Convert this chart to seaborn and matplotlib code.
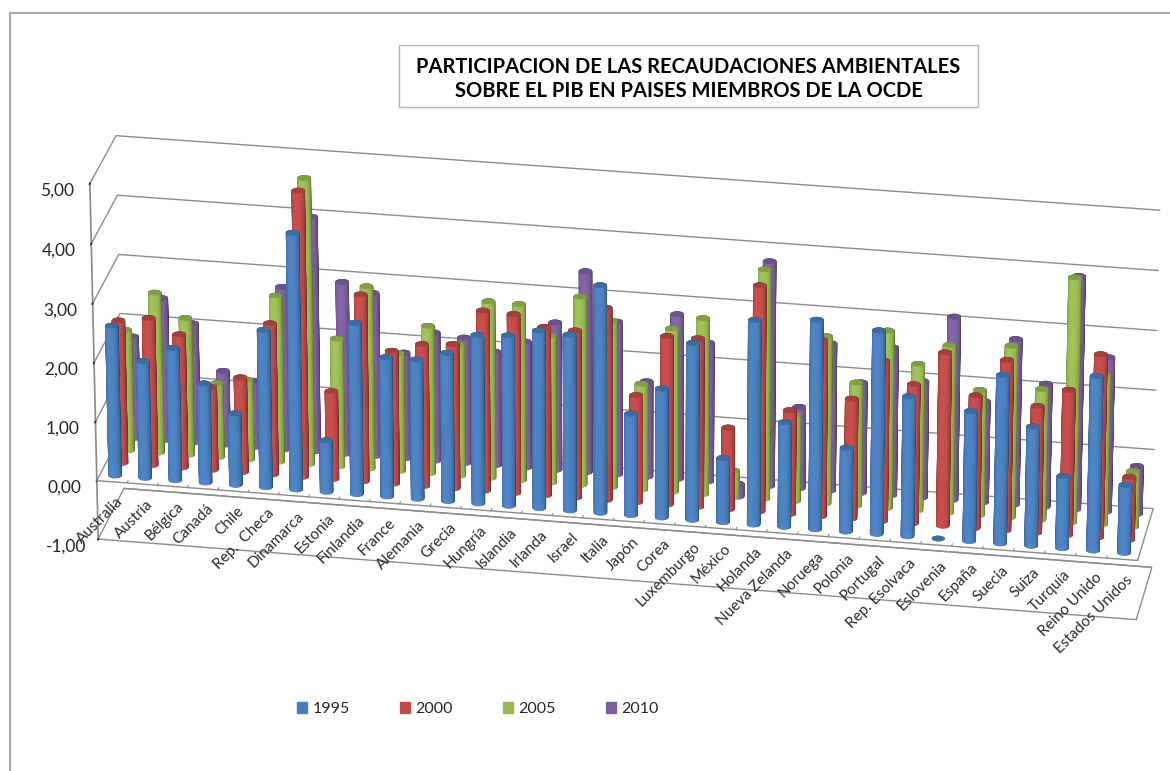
import numpy as np
import matplotlib
matplotlib.use("Agg")
import matplotlib.pyplot as plt
import seaborn as sns
from matplotlib.patches import Patch, Rectangle
from mpl_toolkits.mplot3d import proj3d

# 1 Data
paises = ["Australia", "Austria", "Bélgica", "Canadá", "Chile", "Rep.  Checa", "Dinamarca",
          "Estonia", "Finlandia", "France", "Alemania", "Grecia", "Hungría", "Islandia",
          "Irlanda", "Israel", "Italia", "Japón", "Corea", "Luxemburgo", "México", "Holanda",
          "Nueva Zelanda", "Noruega", "Polonia", "Portugal", "Rep. Esolvaca", "Eslovenia",
          "España", "Suecia", "Suiza", "Turquía", "Reino Unido", "Estados Unidos"]
anios = ["1995", "2000", "2005", "2010"]

v1995 = [2.54, 1.98, 2.24, 1.68, 1.21, 2.66, 4.32, 0.87, 2.89, 2.35, 2.35, 2.50, 2.84, 2.87, 2.99, 2.96, 3.82,
         1.71, 2.17, 2.97, 1.08, 3.43, 1.76, 3.51, 1.41, 3.41, 2.35, 0.00, 2.18, 2.82, 2.00, 1.21, 2.92, 1.14]
v2000 = [2.42, 2.50, 2.26, 1.41, 1.61, 2.56, 4.82, 1.49, 3.16, 2.25, 2.40, 2.44, 3.04, 3.02, 2.84, 2.82, 3.24,
         1.81, 2.84, 2.84, 1.38, 3.80, 1.75, 2.96, 2.02, 2.70, 2.34, 2.91, 2.23, 2.86, 2.13, 2.44, 3.07, 1.06]
v2005 = [2.05, 2.72, 2.33, 1.26, 1.36, 2.82, 4.83, 2.17, 3.09, 2.00, 2.50, 2.22, 2.99, 2.98, 2.49, 3.18, 2.81,
         1.79, 2.76, 2.97, 0.44, 3.86, 1.46, 2.82, 2.08, 2.99, 2.47, 2.82, 2.11, 2.89, 2.20, 4.10, 2.52, 0.94]
v2010 = [1.73, 2.42, 2.03, 1.26, 1.13, 2.76, 3.98, 2.92, 2.77, 1.80, 2.18, 2.13, 1.93, 2.14, 2.50, 3.40, 2.59,
         1.62, 2.79, 2.35, -0.22, 3.79, 1.38, 2.49, 1.87, 2.50, 1.97, 3.09, 1.71, 2.79, 2.08, 3.92, 2.60, 0.81]
series = [v1995, v2000, v2005, v2010]

zticks = [-1, 0, 1, 2, 3, 4, 5]
zlabels = ["-1,00", "0,00", "1,00", "2,00", "3,00", "4,00", "5,00"]
colores = ["#4A7EBB", "#BE4B48", "#98B954", "#7D60A0"]

# 2 Theme
sns.set_theme(style="white")
plt.rcParams["font.family"] = ["Lato", "DejaVu Sans"]
paleta = sns.color_palette(colores)
GRIS = "#8c8c8c"

fig = plt.figure(figsize=(11.7, 7.71), dpi=100)
# axes square bigger than the figure, 3D collections get clipped to it otherwise
lado = 1300
ax = fig.add_axes([(606 - lado / 2) / 1170, (771 - 394 - lado / 2) / 771, lado / 1170, lado / 771],
                  projection="3d", computed_zorder=False)
ax.set_proj_type("persp", focal_length=1.5)
ax.view_init(elev=25, azim=-80)
ax.set_xlim(0, 34)
ax.set_ylim(0, 4)
ax.set_zlim(-1, 5)
ax.set_box_aspect((34 * 31, 120, 392), zoom=0.847)
ax.patch.set_alpha(0)


# 3 Cylinders, back series first so the front ones cover them
def cilindro(x, y, valor, color, orden, r=0.205):
    t = np.linspace(0, 2 * np.pi, 37)
    t2, z2 = np.meshgrid(t, [0, valor])
    xs = x + r * np.cos(t2)
    ys = y + r * np.sin(t2)
    # soft dark rim, bright band near the centre
    mid = (t[:-1] + t[1:]) / 2
    luz = 0.62 + 0.45 * np.clip(np.cos(mid - np.radians(-95)), 0, 1) ** 0.7
    base = np.array(color)
    cara = np.ones((1, len(mid), 4))
    cara[0, :, :3] = np.clip(base[None, :] * luz[:, None], 0, 1)
    if valor != 0:
        ax.plot_surface(xs, ys, z2, facecolors=cara, shade=False, rstride=1, cstride=1,
                        linewidth=0.5, zorder=orden)
    # cap
    tapa = base * 0.86
    rr, tt = np.meshgrid(np.array([0, r]), t)
    zc = np.full_like(rr, max(valor, 0))
    ax.plot_surface(x + rr * np.cos(tt), y + rr * np.sin(tt), zc, color=tapa, shade=False,
                    rstride=1, cstride=1, linewidth=0.3, edgecolor=tapa, zorder=orden + 1)


for j in range(3, -1, -1):
    for i, valor in enumerate(series[j]):
        cilindro(i + 0.5, j + 0.5, valor, paleta[j], 10 * (4 - j))

# 4 Walls, floor and axes
ax.set_xticks([])
ax.set_yticks([])
ax.set_zticks(zticks, labels=zlabels, fontsize=12.5, color="#262626")
ax.zaxis.set_ticks_position("lower")
ax.tick_params(axis="z", pad=7)
for eje in (ax.xaxis, ax.yaxis, ax.zaxis):
    eje.set_pane_color((1, 1, 1, 1))
    eje.pane.set_edgecolor((1, 1, 1, 0))
    eje.line.set_color((1, 1, 1, 0))
ax.zaxis.line.set_color(GRIS)
ax.zaxis.pane.set_edgecolor(GRIS)
ax.zaxis._axinfo["grid"].update(color=GRIS, linewidth=1.0)
ax.zaxis._axinfo["tick"].update(color=GRIS)
ax.grid(True)

# plate at zero with the category ticks
ax.plot([0, 34, 34], [0, 0, 4], [0, 0, 0], color=GRIS, lw=1.0, zorder=1)
for i in range(35):
    ax.plot([i, i], [0, 0.18], [0, 0], color=GRIS, lw=0.8, zorder=1)

# category labels: 3D text keeps its own angle, so place them from the projected point
for i, pais in enumerate(paises):
    xp, yp, _ = proj3d.proj_transform(i + 0.62, 0, -0.22, ax.get_proj())
    ax.annotate(pais, (xp, yp), rotation=45, ha="right", va="top", rotation_mode="anchor",
                fontsize=11, color="#2b2b2b", zorder=60, annotation_clip=False)

# 5 Title, legend, outer border
fig.add_artist(Rectangle((10 / 1170, -0.1), 1.2, 1.1 - 13 / 771, fill=False, ec="#a6a6a6", lw=1.5,
                         transform=fig.transFigure))
fig.add_artist(Rectangle((399 / 1170, 1 - 107 / 771), 579 / 1170, 62 / 771, fc="white", ec="#b5b5b5", lw=1,
                         transform=fig.transFigure))
fig.text(688.5 / 1170, 1 - 79 / 771, "PARTICIPACION DE LAS RECAUDACIONES AMBIENTALES\nSOBRE EL PIB EN PAISES MIEMBROS DE LA OCDE",
         ha="center", va="center", fontsize=14.5, fontweight="bold", color="black", linespacing=1.27)

manejadores = [Patch(color=c, label=a) for c, a in zip(paleta, anios)]
fig.legend(handles=manejadores, loc="center left", bbox_to_anchor=(283 / 1170, 1 - 709 / 771), ncol=4,
           frameon=False, fontsize=11.5, handlelength=0.6, handleheight=0.7, handletextpad=0.35,
           columnspacing=3.15)

fig.savefig("out.png", dpi=100)
